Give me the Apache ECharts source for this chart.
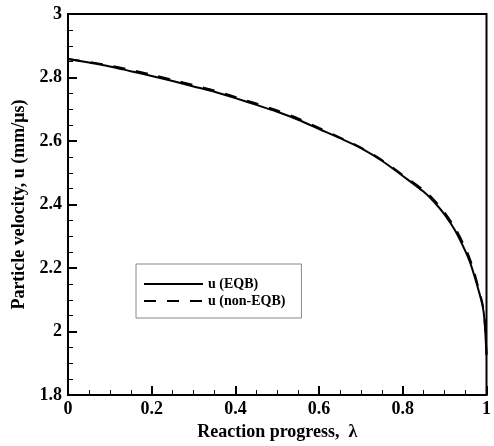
<!DOCTYPE html>
<html>
<head>
<meta charset="utf-8">
<script src="https://cdn.jsdelivr.net/npm/echarts@6/dist/echarts.min.js"></script>
<style>html,body{margin:0;padding:0;background:#fff}#c{width:494px;height:446px}</style>
</head>
<body>
<div id="c"></div>
<script>
var lambda = [0, 0.05, 0.1, 0.15, 0.2, 0.25, 0.3, 0.35, 0.4, 0.45, 0.5, 0.55, 0.6, 0.65, 0.7, 0.75, 0.8, 0.85, 0.875, 0.9, 0.925, 0.95, 0.96, 0.97, 0.98, 0.99, 0.995, 1.0];
var uEQB = [2.858, 2.847, 2.835, 2.820, 2.805, 2.789, 2.772, 2.755, 2.735, 2.714, 2.692, 2.667, 2.638, 2.609, 2.578, 2.538, 2.490, 2.440, 2.408, 2.368, 2.318, 2.252, 2.220, 2.180, 2.135, 2.085, 2.040, 1.925];
var uNonEQB = [2.858, 2.849, 2.838, 2.824, 2.809, 2.793, 2.776, 2.759, 2.739, 2.718, 2.696, 2.671, 2.641, 2.611, 2.579, 2.540, 2.493, 2.445, 2.414, 2.375, 2.326, 2.262, 2.230, 2.190, 2.142, 2.090, 2.045, 1.93];
var seriesNames = ['u (EQB)', 'u (non-EQB)'];
var xTitle = 'Reaction progress,  \u03bb';
var yTitle = 'Particle velocity, u (mm/\u03bcs)';

var font = 'Liberation Serif';
var chart = echarts.init(document.getElementById('c'), null, {renderer: 'canvas'});
function pairs(xs, ys) { return xs.map(function (x, i) { return [x, ys[i]]; }); }
chart.setOption({
  animation: false,
  backgroundColor: '#fff',
  grid: {left: 68, top: 14, right: 3, bottom: 48, show: true, borderColor: '#000', borderWidth: 2},
  legend: {
    orient: 'vertical', left: 136, top: 264,
    padding: [13, 16, 10, 7], itemGap: 3, itemWidth: 59, itemHeight: 14,
    borderColor: '#888', borderWidth: 1, backgroundColor: '#fff',
    itemStyle: {opacity: 0},
    textStyle: {fontFamily: font, fontWeight: 'bold', fontSize: 14, color: '#000'},
    data: seriesNames
  },
  xAxis: {
    type: 'value', min: 0, max: 1, interval: 0.2,
    name: xTitle, nameLocation: 'middle', nameGap: 24,
    nameTextStyle: {fontFamily: font, fontWeight: 'bold', fontSize: 18, color: '#000'},
    axisLine: {lineStyle: {color: '#000', width: 2}},
    axisTick: {inside: true, length: 9, lineStyle: {color: '#000', width: 2}},
    minorTick: {show: true, splitNumber: 4, length: 5, lineStyle: {color: '#000', width: 1}},
    axisLabel: {fontFamily: font, fontWeight: 'bold', fontSize: 18, color: '#000', margin: 5},
    splitLine: {show: false}
  },
  yAxis: {
    type: 'value', min: 1.8, max: 3, interval: 0.2,
    name: yTitle, nameLocation: 'middle', nameGap: 40,
    nameTextStyle: {fontFamily: font, fontWeight: 'bold', fontSize: 18, color: '#000'},
    axisLine: {lineStyle: {color: '#000', width: 2}},
    axisTick: {inside: true, length: 9, lineStyle: {color: '#000', width: 2}},
    minorTick: {show: true, splitNumber: 4, length: 5, lineStyle: {color: '#000', width: 1}},
    axisLabel: {fontFamily: font, fontWeight: 'bold', fontSize: 18, color: '#000', margin: 6},
    splitLine: {show: false}
  },
  series: [
    {name: seriesNames[0], type: 'line', data: pairs(lambda, uEQB), symbol: 'none', smooth: 0.3,
     lineStyle: {color: '#000', width: 2, type: 'solid'}, itemStyle: {color: '#000'}},
    {name: seriesNames[1], type: 'line', data: pairs(lambda, uNonEQB), symbol: 'none', smooth: 0.3,
     lineStyle: {color: '#000', width: 2, type: [12, 11]}, itemStyle: {color: '#000'}}
  ]
});
</script>
</body>
</html>
